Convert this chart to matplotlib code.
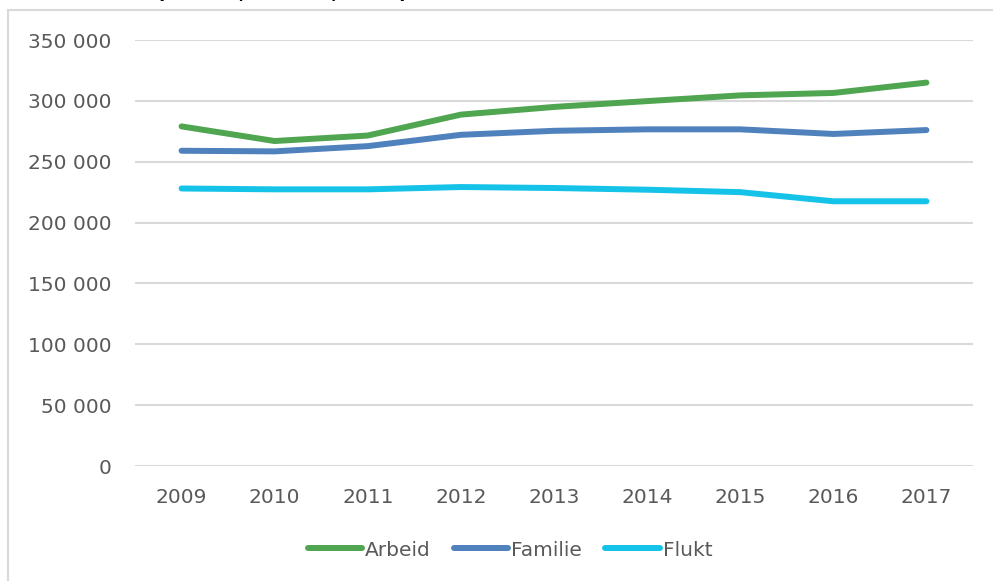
import matplotlib.pyplot as plt
from matplotlib.patches import Rectangle
from matplotlib.ticker import FuncFormatter

years = ['2009', '2010', '2011', '2012', '2013', '2014', '2015', '2016', '2017']
arbeid = [279000, 267000, 271500, 288700, 295000, 299800, 304500, 306500, 315000]
familie = [259000, 258500, 262800, 272100, 275400, 276600, 276600, 272800, 276000]
flukt = [228000, 227300, 227300, 229200, 228400, 227000, 225000, 217500, 217500]

series = [('Arbeid', arbeid, '#50A550'),
          ('Familie', familie, '#4F81BD'),
          ('Flukt', flukt, '#16C3E8')]

plt.rcParams['font.family'] = ['DejaVu Sans']
W, H = 993, 581
fig = plt.figure(figsize=(W / 100, H / 100), dpi=100)
ax = fig.add_axes([135 / W, 1 - 466 / H, (973 - 135) / W, (466 - 40) / H])

x = range(len(years))
for name, vals, col in series:
    ax.plot(x, vals, color=col, linewidth=4.3, solid_capstyle='round',
            solid_joinstyle='round', label=name)

ax.set_xlim(-0.5, len(years) - 0.5)
ax.set_ylim(0, 350000)
ax.set_yticks(range(0, 350001, 50000))
ax.yaxis.set_major_formatter(FuncFormatter(lambda v, p: f'{int(v):,}'.replace(',', ' ')))
ax.set_xticks(list(x))
ax.set_xticklabels(years)

ax.grid(axis='y', color='#d9d9d9', linewidth=1.5)
ax.set_axisbelow(True)
for s in ax.spines.values():
    s.set_visible(False)
ax.tick_params(axis='both', length=0, labelsize=14.5, colors='#595959')
ax.tick_params(axis='y', pad=17)
ax.tick_params(axis='x', pad=16)

# legenden er sentrert på hele diagramområdet, ikke plottet
leg = fig.legend(loc='center', bbox_to_anchor=(510 / W, 1 - 550 / H), ncol=3,
                 frameon=False, fontsize=14.5, handlelength=2.7, handletextpad=0.15,
                 columnspacing=1.15, borderaxespad=0)
for t in leg.get_texts():
    t.set_color('#595959')

# ramme rundt diagrammet
fig.patches.append(Rectangle((8 / W, -0.1), 1.2, 1 - 10 / H + 0.1,
                             transform=fig.transFigure, fill=False,
                             edgecolor='#d9d9d9', linewidth=1.5))

# avkuttet tittel øverst, bare nedre del synes
fig.text(408 / W, 1 + 2 / H, 'Innvandrere (arbeid, familie, flukt)',
         ha='right', va='baseline', fontsize=14.5, fontweight='bold', color='black')

fig.savefig('out.png', dpi=100)
